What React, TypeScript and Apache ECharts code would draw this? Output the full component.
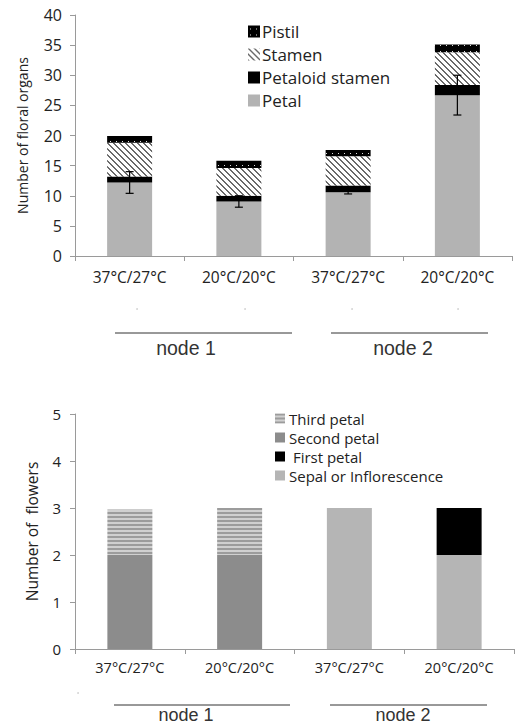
import React, { useEffect, useRef } from "react";
import * as echarts from "echarts";

// ---------- data ----------
const categories = ["37°C/27°C", "20°C/20°C", "37°C/27°C", "20°C/20°C"];
const groupLabels = ["node 1", "node 2"];

// top chart: number of floral organs (stacked)
const petal = [12.2, 9.05, 10.6, 26.7];
const petaloidStamen = [1.0, 0.95, 1.1, 1.7];
const stamen = [5.6, 4.6, 4.85, 5.4];
const pistil = [1.1, 1.2, 1.05, 1.3];
const petalErr = [1.8, 0.95, 0.3, 3.3];

// bottom chart: number of flowers (stacked)
const sepalOrInflorescence = [0, 0, 3, 2];
const secondPetal = [2, 2, 0, 0];
const firstPetal = [0, 0, 0, 1];
const thirdPetal = [0.97, 1, 0, 0];

const topTicks = { min: 0, max: 40, interval: 5 };
const bottomTicks = { min: 0, max: 5, interval: 1 };

function makeTile(w: number, h: number, draw: (ctx: CanvasRenderingContext2D) => void) {
  const c = document.createElement("canvas");
  c.width = w;
  c.height = h;
  const ctx = c.getContext("2d")!;
  draw(ctx);
  return { image: c, repeat: "repeat", imageWidth: w, imageHeight: h } as any;
}

export default function App() {
  const ref = useRef<HTMLDivElement>(null);
  useEffect(() => {
    if (!ref.current) return;
    const chart = echarts.init(ref.current, null, { renderer: "svg" });

    const stamenPat = makeTile(6, 6, (ctx) => {
      ctx.fillStyle = "#ffffff";
      ctx.fillRect(0, 0, 6, 6);
      ctx.fillStyle = "#6a6a6a";
      for (let y = 0; y < 6; y++)
        for (let x = 0; x < 6; x++) if ((x - y + 12) % 6 < 2) ctx.fillRect(x, y, 1, 1);
    });
    const pistilPat = makeTile(6, 6, (ctx) => {
      ctx.fillStyle = "#000000";
      ctx.fillRect(0, 0, 6, 6);
      ctx.fillStyle = "#e0e0e0";
      ctx.fillRect(2, 3, 1, 1);
    });
    const thirdPat = makeTile(4, 4, (ctx) => {
      ctx.fillStyle = "#d0d0d0";
      ctx.fillRect(0, 0, 4, 4);
      ctx.fillStyle = "#9c9c9c";
      ctx.fillRect(0, 0, 4, 2);
    });

    const font = "Open Sans";
    const axisLine = { show: true, lineStyle: { color: "#9a9a9a", width: 1 } };
    const axisTick = { show: true, length: 5, lineStyle: { color: "#9a9a9a" } };

    const errData = petal.map((v, i) => [i, v - petalErr[i], v + petalErr[i]]);

    const nodeLine = (x1: number, x2: number, y: number) => ({
      type: "line",
      shape: { x1, y1: y, x2, y2: y },
      style: { stroke: "#333", lineWidth: 1 },
    });
    const nodeText = (x: number, y: number, t: string, size: number) => ({
      type: "text",
      x,
      y,
      style: {
        text: t,
        font: `${size}px "Liberation Sans", Arial, sans-serif`,
        fill: "#333",
        textAlign: "center",
        textVerticalAlign: "middle",
      },
    });
    const dot = (x: number, y: number) => ({
      type: "circle",
      shape: { cx: x, cy: y, r: 0.7 },
      style: { fill: "#aaa" },
    });

    chart.setOption({
      animation: false,
      backgroundColor: "#ffffff",
      textStyle: { fontFamily: font },
      grid: [
        { left: 75, right: 3, top: 15, height: 241 },
        { left: 75, right: 1, top: 414, height: 235 },
      ],
      xAxis: [
        {
          type: "category",
          gridIndex: 0,
          data: categories,
          axisLine,
          axisTick,
          axisLabel: { color: "#222", fontSize: 15.5, margin: 13, fontFamily: font },
        },
        {
          type: "category",
          gridIndex: 1,
          data: categories,
          axisLine,
          axisTick,
          axisLabel: { color: "#222", fontSize: 14.5, margin: 11, fontFamily: font },
        },
      ],
      yAxis: [
        {
          type: "value",
          gridIndex: 0,
          ...topTicks,
          axisLine,
          axisTick,
          splitLine: { show: false },
          axisLabel: { color: "#222", fontSize: 16, margin: 13, fontFamily: font },
          name: "Number of floral organs",
          nameLocation: "middle",
          nameGap: 46,
          nameTextStyle: { color: "#222", fontSize: 14, fontFamily: font },
        },
        {
          type: "value",
          gridIndex: 1,
          ...bottomTicks,
          axisLine,
          axisTick,
          splitLine: { show: false },
          axisLabel: { color: "#222", fontSize: 15, margin: 14, fontFamily: font },
          name: "Number of  flowers",
          nameLocation: "middle",
          nameGap: 35,
          nameTextStyle: { color: "#222", fontSize: 15.5, fontFamily: font },
        },
      ],
      legend: [
        {
          orient: "vertical",
          left: 243,
          top: 15,
          icon: "rect",
          itemWidth: 12,
          itemHeight: 12,
          itemGap: 0,
          data: ["Pistil", "Stamen", "Petaloid stamen", "Petal"],
          textStyle: { fontSize: 17, lineHeight: 23, color: "#222", fontFamily: font, padding: [0, 0, 0, -3] },
          selectedMode: false,
        },
        {
          orient: "vertical",
          left: 270,
          top: 404,
          icon: "rect",
          itemWidth: 10,
          itemHeight: 10,
          itemGap: 0,
          data: ["Third petal", "Second petal", "First petal", "Sepal or Inflorescence"],
          formatter: (n: string) => (n === "First petal" ? " " + n : n),
          textStyle: { fontSize: 15, lineHeight: 19, color: "#222", fontFamily: font, padding: [0, 0, 0, -1] },
          selectedMode: false,
        },
      ],
      series: [
        { name: "Petal", type: "bar", stack: "a", xAxisIndex: 0, yAxisIndex: 0, barWidth: 45, data: petal, itemStyle: { color: "#b3b3b3" } },
        { name: "Petaloid stamen", type: "bar", stack: "a", xAxisIndex: 0, yAxisIndex: 0, barWidth: 45, data: petaloidStamen, itemStyle: { color: "#000000" } },
        { name: "Stamen", type: "bar", stack: "a", xAxisIndex: 0, yAxisIndex: 0, barWidth: 45, data: stamen, itemStyle: { color: stamenPat } },
        { name: "Pistil", type: "bar", stack: "a", xAxisIndex: 0, yAxisIndex: 0, barWidth: 45, data: pistil, itemStyle: { color: pistilPat } },
        {
          name: "err",
          type: "custom",
          xAxisIndex: 0,
          yAxisIndex: 0,
          z: 10,
          data: errData,
          renderItem: (params: any, api: any) => {
            const x = api.value(0);
            const lo = api.coord([x, api.value(1)]);
            const hi = api.coord([x, api.value(2)]);
            const cw = 4;
            const st = { stroke: "#000", lineWidth: 1.2 };
            return {
              type: "group",
              children: [
                { type: "line", shape: { x1: lo[0], y1: lo[1], x2: hi[0], y2: hi[1] }, style: st },
                { type: "line", shape: { x1: lo[0] - cw, y1: lo[1], x2: lo[0] + cw, y2: lo[1] }, style: st },
                { type: "line", shape: { x1: hi[0] - cw, y1: hi[1], x2: hi[0] + cw, y2: hi[1] }, style: st },
              ],
            };
          },
        },
        { name: "Sepal or Inflorescence", type: "bar", stack: "b", xAxisIndex: 1, yAxisIndex: 1, barWidth: 45, data: sepalOrInflorescence, itemStyle: { color: "#b5b5b5" } },
        { name: "Second petal", type: "bar", stack: "b", xAxisIndex: 1, yAxisIndex: 1, barWidth: 45, data: secondPetal, itemStyle: { color: "#8c8c8c" } },
        { name: "First petal", type: "bar", stack: "b", xAxisIndex: 1, yAxisIndex: 1, barWidth: 45, data: firstPetal, itemStyle: { color: "#000000" } },
        { name: "Third petal", type: "bar", stack: "b", xAxisIndex: 1, yAxisIndex: 1, barWidth: 45, data: thirdPetal, itemStyle: { color: thirdPat } },
      ],
      graphic: [
        dot(137, 309),
        dot(245, 309),
        dot(352, 309),
        dot(458, 309),
        nodeLine(115, 292, 333),
        nodeLine(331, 488, 333),
        nodeText(186, 348, groupLabels[0], 19.5),
        nodeText(403, 348, groupLabels[1], 19.5),
        dot(78, 693),
        nodeLine(114, 290, 705),
        nodeLine(330, 487, 705),
        nodeText(186, 715, groupLabels[0], 18),
        nodeText(403, 715, groupLabels[1], 18),
      ],
    });
    return () => chart.dispose();
  }, []);
  return (
    <div
      ref={ref}
      style={{ position: "fixed", left: 0, top: 0, width: 515, height: 726, background: "#fff" }}
    />
  );
}
